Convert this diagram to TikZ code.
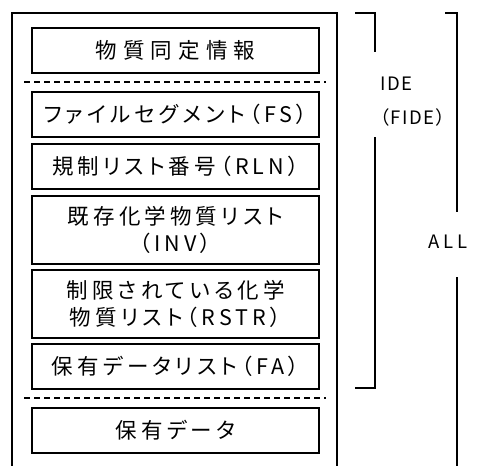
\documentclass[tikz,border=0pt]{standalone}
\usepackage{fontspec}
\setmainfont{Noto Sans CJK JP}[LetterSpace=19, RawFeature=+palt]
\usetikzlibrary{positioning}

\begin{document}
\begin{tikzpicture}[x=1pt, y=-1pt, line width=1.6pt,
    recbox/.style={draw, minimum width=287pt, inner sep=0pt, align=center,
        font=\fontsize{21.5}{27}\selectfont},
    sepline/.style={dash pattern=on 6pt off 4pt},
    sidelabel/.style={font=\fontsize{18.5}{34}\selectfont, align=left}]
    \useasboundingbox (0,0) rectangle (485,466);

    % File frame (open at the bottom)
    \draw (12,466) -- (12,13) -- (337,13) -- (337,466);

    % Records
    \node[recbox, minimum height=45pt] (ident) at (175.5,50.5)
        {\addfontfeature{LetterSpace=28}物質同定情報};
    \draw[sepline] (24,82) -- (326,82);
    \node[recbox, minimum height=45pt] (fs)   at (175.5,114.5) {ファイルセグメント（FS）};
    \node[recbox, minimum height=45pt] (rln)  at (175.5,166.5) {規制リスト番号（RLN）};
    \node[recbox, minimum height=68pt] (inv)  at (175.5,230) {既存化学物質リスト\\（INV）};
    \node[recbox, minimum height=68pt] (rstr) at (175.5,304) {制限されている化学\\物質リスト（RSTR）};
    \node[recbox, minimum height=45pt] (fa)   at (175.5,366.5) {保有データリスト（FA）};
    \draw[sepline] (24,398) -- (326,398);
    \node[recbox, minimum height=45pt] (data) at (175.5,430.5) {保有データ};

    % IDE bracket
    \node[sidelabel, anchor=west] (ide) at (376,102)
        {\addfontfeature{LetterSpace=8}IDE\\\addfontfeature{LetterSpace=8}（FIDE）};
    \draw (355,13) -- (375,13) -- (375,52);
    \draw (375,137) -- (375,388) -- (355,388);

    % ALL bracket
    \node[sidelabel, anchor=center] (all) at (448,242) {ALL};
    \draw (445,13) -- (457,13) -- (457,212);
    \draw (457,277) -- (457,466);
\end{tikzpicture}
\end{document}
